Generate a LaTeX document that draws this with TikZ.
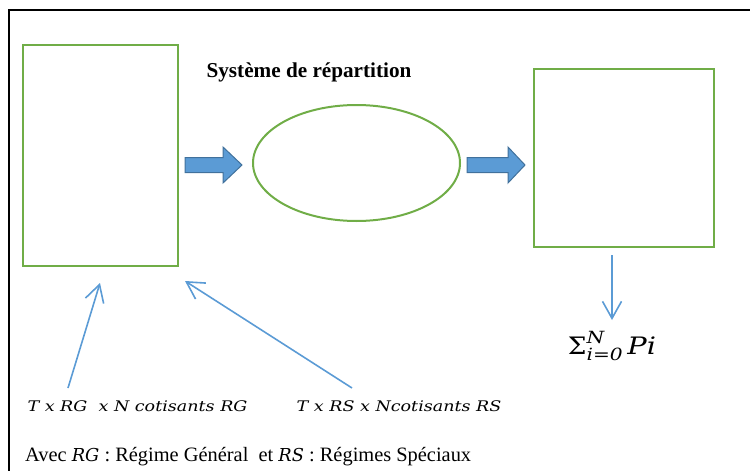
\documentclass[tikz,border=0pt]{standalone}
\usepackage{amsmath}
\usepackage{fontspec}
\setmainfont{Liberation Serif}
\newfontfamily\dvs{DejaVu Serif}[FakeStretch=1.1]
\newfontfamily\dvsi{DejaVu Serif Italic}[FakeStretch=1.2]
\newfontfamily\dvsa{DejaVu Serif Italic}
\usetikzlibrary{arrows.meta,shapes.geometric,calc}
\definecolor{grn}{HTML}{70AD47}
\definecolor{blu}{HTML}{5B9BD5}
\definecolor{bluD}{HTML}{41719C}
\newcommand{\mitt}[1]{{\dvsi #1}}
\tikzset{
  gbox/.style={draw=grn,line width=2pt,inner sep=0pt},
  blockarrow/.style={fill=blu,draw=bluD,line width=1pt,line join=miter},
  conn/.style={draw=blu,line width=1.6pt,-{Straight Barb[length=17pt,width=19pt,line width=1.6pt]}},
  lbl/.style={inner sep=0pt,font=\fontsize{14.6}{16}\selectfont},
}
\begin{document}
\begin{tikzpicture}[x=1pt,y=-1pt]
\useasboundingbox (0,0) rectangle (750,471);
\draw[line width=2pt] (9,500) -- (9,10) -- (780,10);
% boxes
\node[gbox,minimum width=155pt,minimum height=221pt] (left) at (100.5,155.5) {};
\node[gbox,ellipse,minimum width=207pt,minimum height=116pt] (ell) at (356.5,163) {};
\node[gbox,minimum width=180pt,minimum height=178pt] (right) at (623.5,157.5) {};
\node[inner sep=0pt,font=\bfseries\fontsize{21.2}{23}\selectfont] (title) at (309,72) {Système de répartition};
% block arrows
\draw[blockarrow] (185,157.5) -- (223,157.5) -- (223,147) -- (242,165) -- (223,183) -- (223,172.5) -- (185,172.5) -- cycle;
\draw[blockarrow] (467,157.5) -- (508,157.5) -- (508,147) -- (525,165) -- (508,183) -- (508,172.5) -- (467,172.5) -- cycle;
% labels
\node[lbl] (rg) at (137.5,406) {\mitt{T x RG\ \ x N cotisants RG}};
\node[lbl] (rs) at (399,406) {\mitt{T x RS x Ncotisants RS}};
\node[inner sep=0pt,font=\fontsize{24}{26}\selectfont] (sum) at (612,346)
  {$\text{\dvs Σ}_{\text{\mitt{i=0}}}^{\text{\mitt{N}}}\,\text{\mitt{Pi}}$};
\node[inner sep=0pt,anchor=west,font=\fontsize{20.4}{22}\selectfont] (avec) at (25,457)
  {Avec {\dvsa\fontsize{17.8}{22}\selectfont RG} : Régime Général\ \ et {\dvsa\fontsize{17.8}{22}\selectfont RS} : Régimes Spéciaux};
% connectors
\coordinate (a1s) at (68,388);
\coordinate (a1e) at ($(left.south)+(-0.5,16)$);
\coordinate (a2s) at (352,388);
\coordinate (a2e) at (185,281);
\coordinate (a3s) at (612,255);
\coordinate (a3e) at (612,320);
\draw[conn] (a1s) -- (a1e);
\draw[conn] (a2s) -- (a2e);
\draw[conn] (a3s) -- (a3e);
\end{tikzpicture}
\end{document}
